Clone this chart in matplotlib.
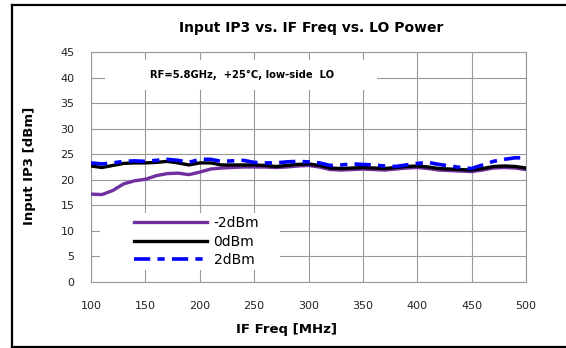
import matplotlib
matplotlib.use("Agg")
import matplotlib.pyplot as plt
from matplotlib.lines import Line2D
from matplotlib.patches import Rectangle

## DATA
if_freq = [100, 110, 120, 130, 140, 150, 160, 170, 180, 190, 200,
           210, 220, 230, 240, 250, 260, 270, 280, 290, 300,
           310, 320, 330, 340, 350, 360, 370, 380, 390, 400,
           410, 420, 430, 440, 450, 460, 470, 480, 490, 500]

iip3_m2dbm = [17.2, 17.1, 17.9, 19.2, 19.8, 20.1, 20.8, 21.2, 21.3, 21.0, 21.5,
              22.1, 22.3, 22.4, 22.5, 22.5, 22.5, 22.4, 22.5, 22.7, 22.8,
              22.5, 22.0, 21.9, 22.0, 22.1, 22.0, 21.9, 22.1, 22.3, 22.4,
              22.2, 21.9, 21.8, 21.7, 21.6, 21.9, 22.3, 22.4, 22.3, 22.0]

iip3_0dbm = [22.7, 22.4, 22.8, 23.2, 23.3, 23.3, 23.4, 23.6, 23.3, 22.9, 23.3,
             23.3, 22.9, 22.9, 22.9, 22.9, 22.8, 22.6, 22.8, 23.0, 23.1,
             22.8, 22.3, 22.2, 22.3, 22.4, 22.3, 22.2, 22.4, 22.6, 22.7,
             22.5, 22.2, 22.1, 22.0, 21.9, 22.2, 22.6, 22.7, 22.6, 22.3]

iip3_2dbm = [23.3, 23.1, 23.3, 23.6, 23.7, 23.6, 23.8, 24.0, 23.8, 23.4, 24.0,
             24.0, 23.6, 23.7, 23.8, 23.4, 23.3, 23.3, 23.5, 23.6, 23.5,
             23.3, 22.8, 22.9, 23.1, 23.0, 22.9, 22.7, 22.6, 22.9, 23.2,
             23.4, 23.0, 22.7, 22.4, 22.2, 22.9, 23.6, 24.0, 24.3, 24.3]

labels = ["-2dBm", "0dBm", "2dBm"]
x_ticks = [100, 150, 200, 250, 300, 350, 400, 450, 500]
y_ticks = [0, 5, 10, 15, 20, 25, 30, 35, 40, 45]
## DATA ABOVE

fig = plt.figure(figsize=(5.66, 3.48), dpi=100)
ax = fig.add_axes([91 / 566, 1 - 282 / 348, 435 / 566, 230 / 348])

ax.plot(if_freq, iip3_m2dbm, color="#7030A0", lw=2.4, label=labels[0], zorder=3)
ax.plot(if_freq, iip3_0dbm, color="black", lw=2.4, label=labels[1], zorder=4)
ax.plot(if_freq, iip3_2dbm, color="#0000FF", lw=2.6, label=labels[2],
        linestyle=(0, (4.5, 2, 2, 2)), zorder=5)

ax.set_xlim(100, 500)
ax.set_ylim(0, 45)
ax.set_xticks(x_ticks)
ax.set_yticks(y_ticks)
ax.tick_params(length=0, labelsize=8, colors="#222222")
ax.tick_params(axis="x", pad=14)
ax.tick_params(axis="y", pad=12)
ax.grid(True, color="#999999", lw=0.8)
ax.set_axisbelow(True)
for s in ax.spines.values():
    s.set_color("#999999")
    s.set_linewidth(0.8)

# white box behind the condition note
ax.add_patch(Rectangle((113, 37.6), 250, 5.8, facecolor="white",
                       edgecolor="none", zorder=2))
ax.text(239, 40.5, "RF=5.8GHz,  +25°C, low-side  LO", fontsize=7.2,
        fontweight="bold", ha="center", va="center", zorder=3)

# white box behind the legend
ax.add_patch(Rectangle((108, 2.4), 166, 11.1, facecolor="white",
                       edgecolor="none", zorder=2))
leg = ax.legend(loc="lower left", bbox_to_anchor=(0.087, 0.04), fontsize=10,
                frameon=False, handlelength=5.2, handletextpad=0.5,
                labelspacing=0.32, borderpad=0.4, borderaxespad=0)

fig.text(311 / 566, 1 - 28 / 348, "Input IP3 vs. IF Freq vs. LO Power",
         fontsize=10, fontweight="bold", ha="center", va="center")
fig.text(30 / 566, 1 - 166 / 348, "Input IP3 [dBm]", fontsize=9.5,
         fontweight="bold", rotation=90, ha="center", va="center")
fig.text(287 / 566, 1 - 329 / 348, "IF Freq [MHz]", fontsize=9.5,
         fontweight="bold", ha="center", va="center")

# outer page frame (top, left, bottom)
fig.add_artist(Line2D([0.021, 1], [1 - 5 / 348, 1 - 5 / 348], color="black", lw=1.6))
fig.add_artist(Line2D([0.021, 0.021], [1 - 5 / 348, 1 - 347 / 348], color="black", lw=1.6))
fig.add_artist(Line2D([0.021, 1], [1 - 347 / 348, 1 - 347 / 348], color="black", lw=1.6))

fig.savefig("out.png", dpi=100)
